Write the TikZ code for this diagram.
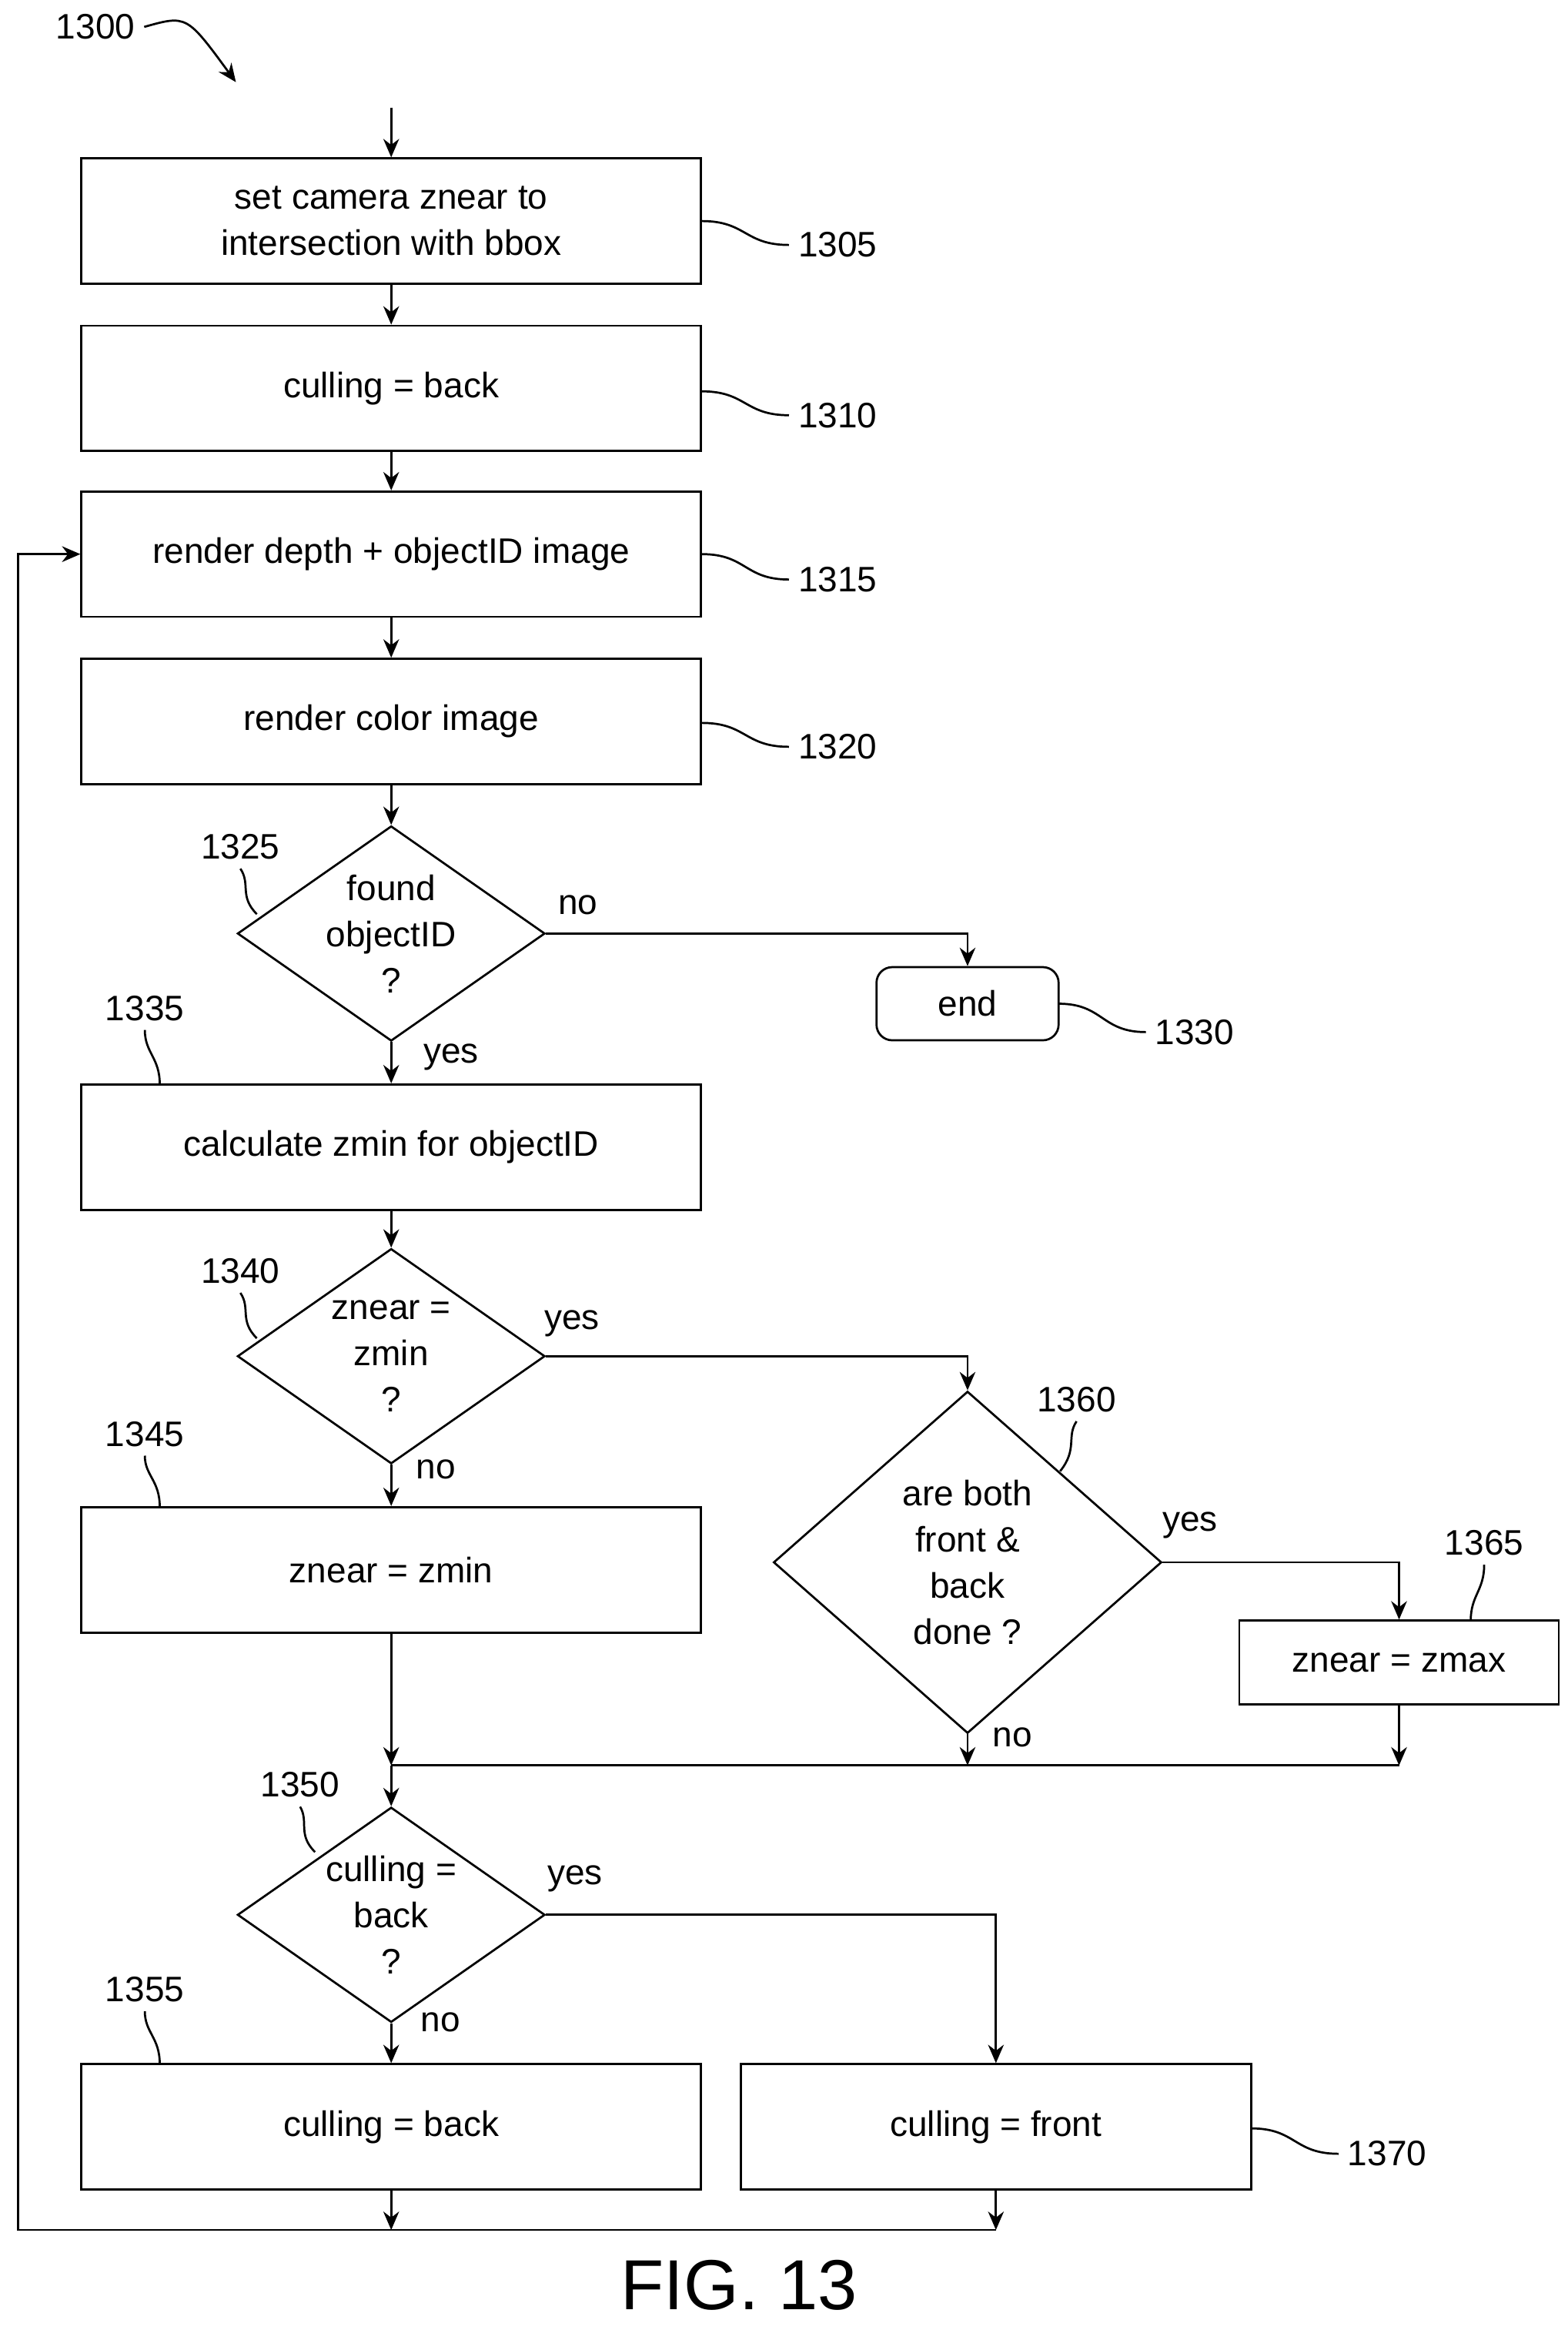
\documentclass[tikz,border=0pt]{standalone}
\usepackage{fontspec}
\setmainfont{Liberation Sans}
\usetikzlibrary{arrows.meta,shapes.geometric,positioning}
\tikzset{
  every node/.style={align=center,font=\fontsize{13.5}{17.6}\selectfont},
  box/.style={rectangle,draw,thick,minimum width=8.3cm,minimum height=1.68cm},
  dia/.style={diamond,draw,thick,inner sep=0pt,minimum width=4.12cm,minimum height=2.88cm},
  flow/.style={thick,-{Stealth[length=7pt,width=6pt]}},
  lead/.style={thick}
}
% squiggly reference leader
\newcommand{\leadto}[2]{\draw[lead] (#1) .. controls +(30,0) and +(-30,0) .. (#2);}
\begin{document}
\begin{tikzpicture}[x=0.02cm,y=-0.02cm]
  \useasboundingbox (0,0) rectangle (1050,1560);
  % process steps
  \node[box] (s1305) at (262,148) {set camera znear to\\intersection with bbox};
  \node[box] (s1310) at (262,260) {culling = back};
  \node[box] (s1315) at (262,371) {render depth + objectID image};
  \node[box] (s1320) at (262,483) {render color image};
  \node[dia] (d1325) at (262,625) {};
  \node at (d1325) {found\\objectID\\?};
  \node[rectangle,rounded corners=6pt,draw,thick,minimum width=2.44cm,minimum height=0.98cm] (end) at (648,672) {end};
  \node[box] (s1335) at (262,768) {calculate zmin for objectID};
  \node[dia] (d1340) at (262,908) {};
  \node at (d1340) {znear =\\zmin\\?};
  \node[box] (s1345) at (262,1051) {znear = zmin};
  \node[diamond,draw,thick,inner sep=0pt,minimum width=5.2cm,minimum height=4.58cm] (d1360) at (648,1046) {};
  \node at (d1360) {are both\\front \&\\back\\done ?};
  \node[rectangle,draw,thick,minimum width=4.28cm,minimum height=1.12cm] (s1365) at (937,1113) {znear = zmax};
  \node[dia] (d1350) at (262,1282) {};
  \node at (d1350) {culling =\\back\\?};
  \node[box] (s1355) at (262,1424) {culling = back};
  \node[rectangle,draw,thick,minimum width=6.84cm,minimum height=1.68cm] (s1370) at (667,1424) {culling = front};
  % helper points
  \coordinate (top) at (262,72);
  \coordinate (merge) at (262,1182);
  \coordinate (loopR) at (667,1493);
  \coordinate (loopL) at (262,1493);
  % connectors
  \draw[flow] (top) -- (s1305);
  \draw[flow] (s1305) -- (s1310);
  \draw[flow] (s1310) -- (s1315);
  \draw[flow] (s1315) -- (s1320);
  \draw[flow] (s1320) -- (d1325);
  \draw[flow] (d1325.east) -| (end);
  \draw[flow] (d1325) -- (s1335);
  \draw[flow] (s1335) -- (d1340);
  \draw[flow] (d1340.east) -| (d1360.north);
  \draw[flow] (d1340) -- (s1345);
  \draw[flow] (d1360.east) -| (s1365);
  \draw[flow] (s1345) -- (merge);
  \draw[flow] (d1360.south) -- (d1360.south |- merge);
  \draw[flow] (s1365) -- (s1365.south |- merge);
  \draw[thick] (merge) -- (merge -| s1365.south);
  \draw[flow] (merge) -- (d1350);
  \draw[flow] (d1350.east) -| (s1370);
  \draw[flow] (d1350) -- (s1355);
  \draw[flow] (s1355) -- (loopL);
  \draw[flow] (s1370) -- (loopR);
  \draw[flow] (loopR) -- (12,1493) -- (12,371) -- (s1315.west);
  % branch labels
  \node at (387,606) {no};
  \node at (302,708) {yes};
  \node at (383,886) {yes};
  \node at (292,984) {no};
  \node at (797,1021) {yes};
  \node at (678,1163) {no};
  \node at (385,1258) {yes};
  \node at (295,1354) {no};
  % reference numerals
  \node (n1300) at (64,18) {1300};
  \draw[flow] (n1300.east) .. controls (125,10) .. (158,55);
  \node (n1305) at (561,164) {1305};
  \node (n1310) at (561,278) {1310};
  \node (n1315) at (561,388) {1315};
  \node (n1320) at (561,500) {1320};
  \node (n1330) at (800,691) {1330};
  \node (n1370) at (929,1442) {1370};
  \leadto{470,148}{n1305.west}
  \leadto{470,262}{n1310.west}
  \leadto{470,371}{n1315.west}
  \leadto{470,484}{n1320.west}
  \leadto{709,672}{n1330.west}
  \leadto{838,1425}{n1370.west}
  \node (n1325) at (161,567) {1325};
  \node (n1335) at (97,675) {1335};
  \node (n1340) at (161,851) {1340};
  \node (n1345) at (97,960) {1345};
  \node (n1350) at (201,1195) {1350};
  \node (n1355) at (97,1332) {1355};
  \node (n1360) at (721,937) {1360};
  \node (n1365) at (994,1033) {1365};
  \draw[lead] (172,612) .. controls (160,600) and (168,592) .. (n1325.south);
  \draw[lead] (107,726) .. controls (107,708) and (97,705) .. (n1335.south);
  \draw[lead] (172,896) .. controls (160,884) and (168,876) .. (n1340.south);
  \draw[lead] (107,1009) .. controls (107,991) and (97,988) .. (n1345.south);
  \draw[lead] (211,1240) .. controls (199,1228) and (207,1220) .. (n1350.south);
  \draw[lead] (107,1382) .. controls (107,1364) and (97,1361) .. (n1355.south);
  \draw[lead] (710,985) .. controls (722,970) and (714,962) .. (n1360.south);
  \draw[lead] (985,1085) .. controls (985,1068) and (994,1065) .. (n1365.south);
  % figure caption
  \node[font=\fontsize{27}{30}\selectfont] (fig) at (495,1530) {FIG. 13};
\end{tikzpicture}
\end{document}
